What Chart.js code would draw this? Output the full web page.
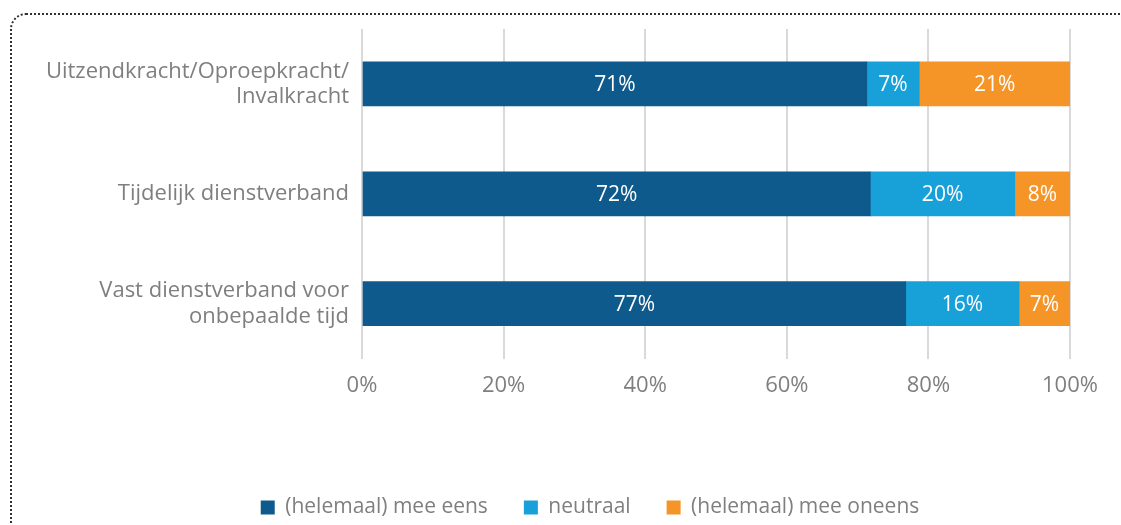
<!DOCTYPE html>
<html>
<head>
<meta charset="utf-8">
<script src="https://cdn.jsdelivr.net/npm/chart.js@4/dist/chart.umd.min.js"></script>
<style>
  html, body { margin: 0; padding: 0; background: #fff; }
  #wrap { position: relative; width: 1121px; height: 525px; overflow: hidden; }
  #frame {
    position: absolute; left: 10px; top: 13px; width: 1200px; height: 600px;
    border-top: 2px dotted #333; border-left: 2px dotted #333;
    border-top-left-radius: 16px;
  }
  #chart { position: absolute; left: 0; top: 0; }
</style>
</head>
<body>
<div id="wrap">
  <div id="frame"></div>
  <canvas id="chart" width="1121" height="525"></canvas>
</div>
<script>
// categories (top to bottom)
let categories = [
    ['Uitzendkracht/Oproepkracht/', 'Invalkracht'],
    'Tijdelijk dienstverband',
    ['Vast dienstverband voor', 'onbepaalde tijd']
];

// share per category, in percent
let eens = [71.3, 71.8, 76.8];
let neutraal = [7.4, 20.4, 16.0];
let oneens = [21.3, 7.8, 7.2];

let seriesNames = ['(helemaal) mee eens', 'neutraal', '(helemaal) mee oneens'];
let seriesColors = ['#0f5a8c', '#18a0d9', '#f59427'];

let xTicks = [0, 20, 40, 60, 80, 100];

let gray = '#7f7f80';
let fontFamily = "'Open Sans', 'Noto Sans', sans-serif";

// white percentage labels inside the bars
let barLabels = {
    id: 'barLabels',
    afterDatasetsDraw(chart) {
        let ctx = chart.ctx;
        ctx.save();
        ctx.fillStyle = '#fff';
        ctx.font = '21px ' + fontFamily;
        ctx.textAlign = 'center';
        ctx.textBaseline = 'middle';
        chart.data.datasets.forEach((ds, i) => {
            chart.getDatasetMeta(i).data.forEach((bar, j) => {
                let mid = (bar.x + bar.base) / 2;
                ctx.fillText(Math.round(ds.data[j]) + '%', mid, bar.y + 1);
            });
        });
        ctx.restore();
    }
};

// the legend sits a bit right of centre in the original
let legendShift = {
    id: 'legendShift',
    afterLayout(chart) {
        chart.legend.left += 55;
        chart.legend.right += 55;
        chart.legend.top += 3;
        chart.legend.bottom += 3;
    }
};

new Chart(document.getElementById('chart'), {
    type: 'bar',
    data: {
        labels: categories,
        datasets: [
            { label: seriesNames[0], data: eens, backgroundColor: seriesColors[0] },
            { label: seriesNames[1], data: neutraal, backgroundColor: seriesColors[1] },
            { label: seriesNames[2], data: oneens, backgroundColor: seriesColors[2] }
        ]
    },
    options: {
        indexAxis: 'y',
        responsive: false,
        animation: false,
        devicePixelRatio: 1,
        barThickness: 44,
        layout: { padding: { top: 29, right: 51, left: 0, bottom: 0 } },
        scales: {
            x: {
                stacked: true,
                min: 0,
                max: 100,
                afterBuildTicks(scale) {
                    scale.ticks = xTicks.map(v => ({ value: v }));
                },
                afterFit(scale) {
                    scale.height += 45;
                },
                grid: { color: '#d9d9d9', lineWidth: 2, drawTicks: false },
                border: { display: false },
                ticks: {
                    color: gray,
                    padding: 14,
                    font: { size: 22, family: fontFamily },
                    callback: v => v + '%'
                }
            },
            y: {
                stacked: true,
                afterFit(scale) {
                    scale.width = 362;
                    scale.paddingTop = 0;
                    scale.paddingBottom = 0;
                },
                grid: { display: false, drawTicks: false },
                border: { display: false },
                ticks: {
                    color: gray,
                    padding: 13,
                    font: { size: 22, family: fontFamily, lineHeight: 1.15 }
                }
            }
        },
        plugins: {
            legend: {
                position: 'bottom',
                labels: {
                    color: gray,
                    boxWidth: 14,
                    boxHeight: 14,
                    padding: 36,
                    font: { size: 21, family: fontFamily }
                }
            },
            tooltip: { enabled: false }
        }
    },
    plugins: [barLabels, legendShift]
});
</script>
</body>
</html>
